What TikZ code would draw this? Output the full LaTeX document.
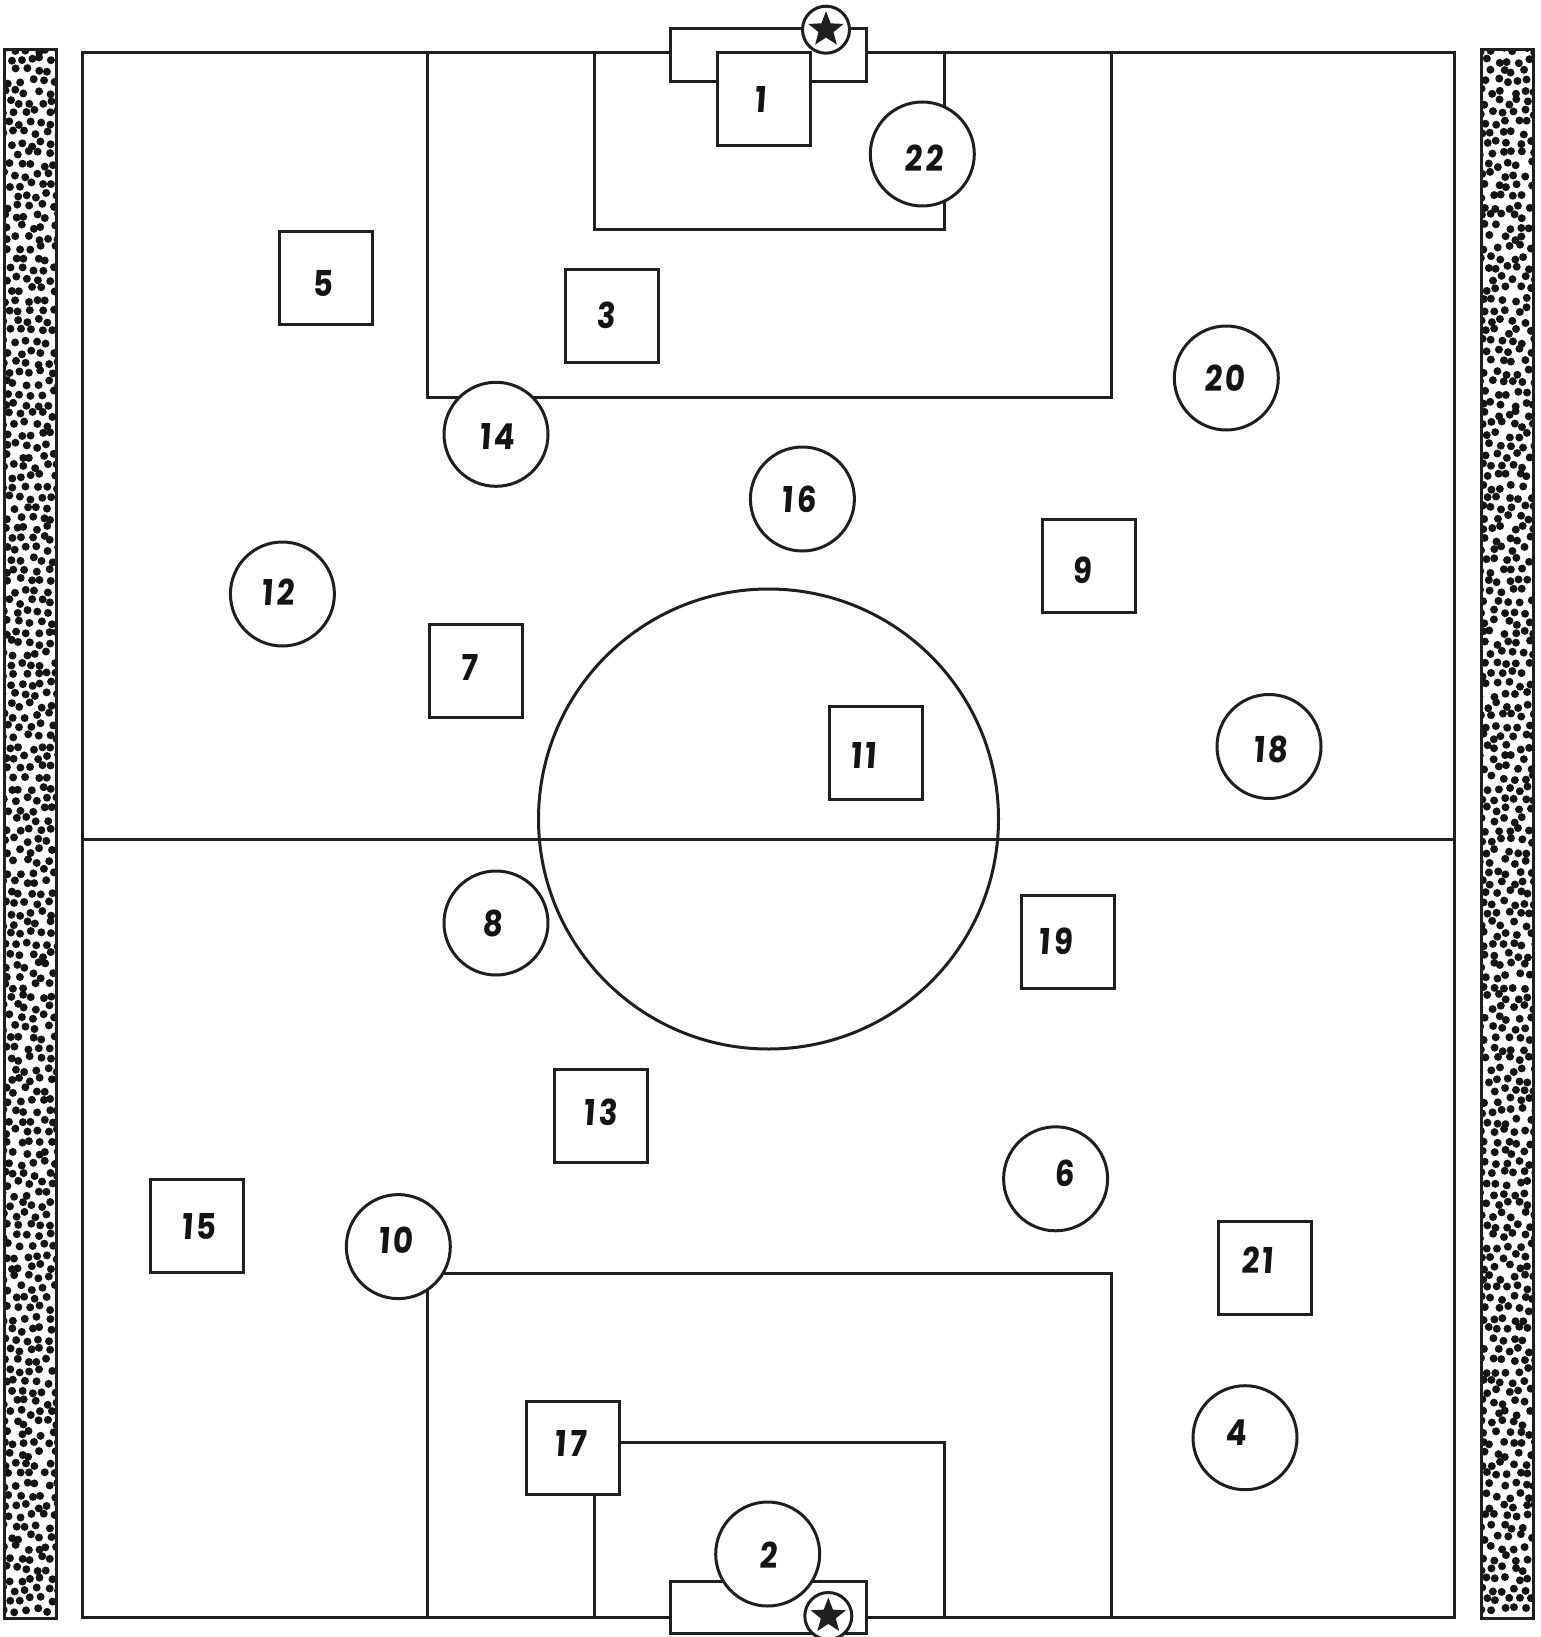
\documentclass[tikz,border=0pt]{standalone}
\usepackage{fontspec}
\newfontfamily\numberfont{Poppins}[LetterSpace=9]
\usetikzlibrary{shapes.geometric}
\tikzset{
	pitch/.style={line width=3pt, draw=black!88},
	squareplayer/.style={draw=black!88, fill=white, line width=3pt, minimum size=93pt, inner sep=0pt},
	roundplayer/.style={circle, draw=black!88, fill=white, line width=3pt, minimum size=104pt, inner sep=0pt},
	keeper/.style={circle, draw=black!88, fill=white, line width=3pt, minimum size=47pt, inner sep=0pt},
	keeperstar/.style={star, star points=5, star point ratio=2.35, fill=black!88, minimum size=37pt, inner sep=0pt},
	number/.style={font=\fontsize{31}{31}\numberfont\bfseries, text=black!92, xslant=0.07, yscale=1.15, inner sep=0pt},
}
\begin{document}
\begin{tikzpicture}[x=1pt, y=-1pt]
	\useasboundingbox (0,0) rectangle (1540,1637);
	\pgfmathsetseed{4711}
	\foreach \xl in {4.5,1481} {
		\begin{scope}
			\clip (\xl,50) rectangle (\xl+52,1618);
			\foreach \r in {0,...,150} {
				\foreach \c in {0,...,5} {
					\pgfmathsetmacro{\px}{\xl+\c*10.8+mod(\r,2)*5+rand*3}
					\pgfmathsetmacro{\py}{50+\r*10.4+rand*3}
					\fill[black!92] (\px,\py) circle (4pt);
				}
			}
		\end{scope}
		\draw[pitch] (\xl,50) rectangle (\xl+52,1618);
	}
	\draw[pitch] (82.5,53) rectangle (1454.5,1617);
	\draw[pitch] (82.5,839.5) -- (1454.5,839.5);
	\draw[pitch] (768.5,819) circle (230pt);
	\draw[pitch] (427,53) rectangle (1111,397);
	\draw[pitch] (594,53) rectangle (944,229.5);
	\draw[pitch] (427,1617) rectangle (1111,1273);
	\draw[pitch] (594,1617) rectangle (944,1442);
	\draw[pitch, fill=white] (670.7,29) rectangle (866.7,81.3);
	\draw[pitch, fill=white] (670.7,1581) rectangle (866.7,1633.3);
	\foreach \n/\x/\y/\lx/\ly in {1/764/99.5/761/99, 5/326.3/278.3/323.6/283, 3/611.8/315.8/606.6/315.5, 9/1089/566.4/1082.7/570, 7/476/670.8/469.8/667, 11/876/753.3/864.5/755, 19/1068/942.3/1056.6/941, 13/601.4/1115.6/601.4/1112, 15/197.3/1226.3/199.4/1226, 21/1265.4/1268/1258/1260, 17/573.2/1448/571/1443} {
		\node[squareplayer] (player\n) at (\x,\y) {};
		\node[number] (number\n) at (\lx,\ly) {\n};
	}
	\foreach \n/\x/\y/\lx/\ly in {22/922.3/154/925/158.7, 20/1226.3/378/1225.7/378, 14/496/434.3/498/436.4, 16/802.4/499/799.7/499, 12/282.4/594/278.7/592, 18/1269/746.5/1271.7/749.7, 8/496/923/493.8/923, 6/1055.6/1178.8/1065/1173.6, 10/398.3/1246.6/396.7/1240.4, 4/1245/1437.7/1237/1432.6, 2/767.7/1554/769.5/1554.7} {
		\node[roundplayer] (player\n) at (\x,\y) {};
		\node[number] (number\n) at (\lx,\ly) {\n};
	}
	\node[keeper] (keepertop) at (826,29.7) {};
	\node[keeperstar] (startop) at (826,29.7) {};
	\node[keeper] (keeperbottom) at (828.3,1616) {};
	\node[keeperstar] (starbottom) at (828.3,1616) {};
\end{tikzpicture}
\end{document}
